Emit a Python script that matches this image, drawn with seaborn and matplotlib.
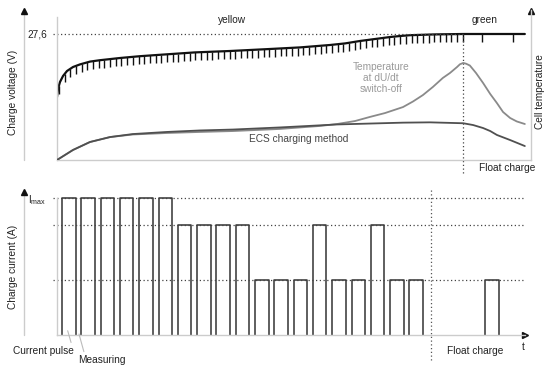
import numpy as np
import pandas as pd
import matplotlib.pyplot as plt
import seaborn as sns

# === DATA ===
# top panel: time in arbitrary units (0-100), voltage in V, cell temperature in relative units (0-100)
volt_t = [0.0, 0.21, 0.63, 1.27, 2.11, 3.38, 4.85, 6.96, 9.07, 13.3, 17.5, 21.7, 29.1,
          36.5, 44.9, 51.3, 57.6, 60.8, 63.9, 67.1, 70.3, 72.4, 74.5, 79.7, 85.7, 98.7]
volt_v = [24.45, 24.85, 25.2, 25.5, 25.75, 25.95, 26.08, 26.22, 26.29, 26.4, 26.49, 26.56, 26.68,
          26.75, 26.85, 26.93, 27.05, 27.13, 27.25, 27.35, 27.45, 27.5, 27.54, 27.58, 27.6, 27.6]

temp_t = [0, 3.38, 6.96, 11.2, 16.0, 23.2, 30.2, 37.1, 47.0, 55.5, 59.1, 62.9, 66.0, 69.2,
          73.0, 75.1, 77.2, 79.3, 81.4, 82.9, 84.4, 85.0, 85.7, 86.3, 87.1, 88.4, 89.9,
          91.4, 92.8, 94.1, 95.6, 97.0, 98.7]
temp_dudt = [0, 6.7, 12.0, 15.3, 17.0, 18.0, 18.7, 19.3, 20.7, 22.7, 24.0, 26.0, 28.7, 31.3,
             35.3, 39.0, 43.3, 48.7, 54.7, 58.0, 62.0, 63.8, 64.7, 64.2, 63.0, 58.0, 51.3,
             44.0, 38.0, 32.0, 28.0, 25.7, 24.0]

ecs_t = [0, 3.38, 6.96, 11.2, 16.0, 23.2, 30.2, 37.1, 47.0, 59.1, 73.0, 78.7, 85.7,
         87.8, 89.9, 91.4, 92.8, 95.6, 98.7]
ecs_temp = [0, 6.7, 12.0, 15.3, 17.3, 18.7, 19.7, 20.3, 21.7, 23.7, 24.9, 25.1, 24.5,
            23.3, 21.3, 19.3, 16.7, 13.3, 9.3]

V_END = 27.6          # end-of-charge voltage
SWITCH_T = 85.7       # dU/dt switch-off -> float charge
N_MEASURE = 71        # measuring pauses during main charge
MEASURE_START = 0.4
MEASURE_PERIOD = 1.2
float_tick_t = [85.7, 89.7, 96.2]
tick_drop = 0.4

# bottom panel: time in pulse periods, current relative to Imax
pulse_start = [0.26, 1.26, 2.26, 3.26, 4.26, 5.26, 6.26, 7.26, 8.26, 9.26,
               10.26, 11.26, 12.26, 13.26, 14.26, 15.26, 16.26, 17.26, 18.26, 22.18]
pulse_level = [1.0, 1.0, 1.0, 1.0, 1.0, 1.0, 0.8, 0.8, 0.8, 0.8,
               0.4, 0.4, 0.4, 0.8, 0.4, 0.4, 0.8, 0.4, 0.4, 0.4]
PULSE_WIDTH = 0.7
current_levels = [1.0, 0.8, 0.4]
FLOAT_T = 19.38

# === STYLE ===
sns.set_theme(style="white")
plt.rcParams['font.family'] = ['Liberation Sans', 'DejaVu Sans']
AXIS_GREY = "#cccccc"
DOT = (0, (1, 2))
FS = 7.3

fig = plt.figure(figsize=(5.56, 3.68), dpi=100)
ax = fig.add_axes([0.10252, 0.56522, 0.85252, 0.40761])
axt = ax.twinx()
ax2 = fig.add_axes([0.10252, 0.08967, 0.84173, 0.39402])

# --- Top panel: charge voltage + cell temperature ---
sns.lineplot(x=volt_t, y=volt_v, ax=ax, color="#111111", lw=1.6)
measure_t = MEASURE_START + MEASURE_PERIOD * np.arange(N_MEASURE)
tops = np.interp(measure_t, volt_t, volt_v)
ax.vlines(measure_t, tops - tick_drop, tops, color="#111111", lw=1.0)
ax.vlines(float_tick_t, V_END - tick_drop, V_END, color="#111111", lw=1.0)
ax.hlines(V_END, -0.8, SWITCH_T, color="#444444", lw=0.9, linestyles=DOT, clip_on=False)
ax.vlines(SWITCH_T, 20.65, V_END, color="#444444", lw=0.9, linestyles=DOT, clip_on=False)
ax.set_xlim(0, 100)
ax.set_ylim(21.3, 28.8)
ax.set_xticks([])
ax.set_yticks([V_END])
ax.set_yticklabels(["27,6"])
ax.tick_params(axis="y", length=0, pad=7, labelsize=FS, labelcolor="#222222")

sns.lineplot(x=temp_t, y=temp_dudt, ax=axt, color="#8a8a8a", lw=1.3)
sns.lineplot(x=ecs_t, y=ecs_temp, ax=axt, color="#505050", lw=1.3)
axt.set_ylim(0, 100)
axt.set_yticks([])

for s in ["top", "right"]:
    ax.spines[s].set_visible(False)
for s in ["top", "left", "bottom"]:
    axt.spines[s].set_visible(False)
ax.spines["left"].set_bounds(21.3, 28.45)
for s in [ax.spines["left"], ax.spines["bottom"], axt.spines["right"]]:
    s.set_color(AXIS_GREY)
    s.set_linewidth(1.0)

ax.text(36.9, 28.3, "yellow", ha="center", va="center", fontsize=FS, color="#222222")
ax.text(90.3, 28.3, "green", ha="center", va="center", fontsize=FS, color="#222222")
ax.text(94.9, 20.9, "Float charge", ha="center", va="center", fontsize=FS, color="#222222", clip_on=False)
axt.text(68.4, 54.7, "Temperature\nat dU/dt\nswitch-off", ha="center", va="center",
         fontsize=FS, color="#9a9a9a", linespacing=1.15)
axt.text(50.9, 14.0, "ECS charging method", ha="center", va="center", fontsize=FS, color="#444444")

ax.set_ylabel("Charge voltage (V)", fontsize=FS, color="#222222")
ax.yaxis.set_label_coords(-0.082, 0.453)
axt.set_ylabel("Cell temperature", fontsize=FS, color="#222222")
axt.yaxis.set_label_coords(1.008, 0.453)
ax.set_xlabel("")

# outer axis arrows (top)
ax.plot([-0.0696, -0.0696], [0, 0.97], transform=ax.transAxes, color=AXIS_GREY, lw=1.0, clip_on=False)
ax.plot([-0.0696], [0.99], transform=ax.transAxes, marker="^", ms=4, color="#111111", clip_on=False)
ax.plot([1.0], [0.99], transform=ax.transAxes, marker="^", ms=4, color="#111111", clip_on=False)

# --- Bottom panel: pulsed charge current ---
rows = []
for i, (s, h) in enumerate(zip(pulse_start, pulse_level)):
    for t, c in [(s, 0), (s, h), (s + PULSE_WIDTH, h), (s + PULSE_WIDTH, 0)]:
        rows.append({"pulse": i, "t": t, "I": c})
pulse_df = pd.DataFrame(rows)
sns.lineplot(data=pulse_df, x="t", y="I", units="pulse", estimator=None, sort=False,
             ax=ax2, color="#333333", lw=1.1)
ax2.hlines(current_levels, -0.2, 24.25, color="#444444", lw=0.9, linestyles=DOT, clip_on=False)
ax2.vlines(FLOAT_T, -0.18, 1.058, color="#555555", lw=0.9, linestyles=DOT, clip_on=False)
ax2.set_xlim(0, 24.25)
ax2.set_ylim(0, 1.058)
ax2.set_xticks([])
ax2.set_yticks([1.0])
ax2.set_yticklabels([r"I$_{\mathregular{max}}$"])
ax2.tick_params(axis="y", length=0, pad=8, labelsize=FS, labelcolor="#222222")
for s in ["top", "right"]:
    ax2.spines[s].set_visible(False)
ax2.spines["left"].set_bounds(0, 1.0)
for s in ["left", "bottom"]:
    ax2.spines[s].set_color(AXIS_GREY)
    ax2.spines[s].set_linewidth(1.0)
ax2.set_xlabel("")
ax2.set_ylabel("Charge current (A)", fontsize=FS, color="#222222")
ax2.yaxis.set_label_coords(-0.0833, 0.469)

ax2.plot([-0.0705, -0.0705], [0, 0.97], transform=ax2.transAxes, color=AXIS_GREY, lw=1.0, clip_on=False)
ax2.plot([-0.0705], [0.986], transform=ax2.transAxes, marker="^", ms=4, color="#111111", clip_on=False)
ax2.plot([1.0], [0.0], transform=ax2.transAxes, marker=">", ms=4, color="#111111", clip_on=False)

ax2.text(21.66, -0.12, "Float charge", ha="center", va="center", fontsize=FS, color="#222222")
ax2.text(24.15, -0.09, "t", ha="center", va="center", fontsize=FS, color="#222222")
ax2.annotate("Current pulse", xy=(0.554, 0.031), xytext=(-2.30, -0.115), ha="left", va="center",
             fontsize=FS, color="#222222", annotation_clip=False,
             arrowprops=dict(arrowstyle="-", color="#bbbbbb", lw=0.8, shrinkA=0, shrinkB=0,
                             relpos=(0.98, 0.9)))
ax2.annotate("Measuring", xy=(1.14, 0.007), xytext=(1.07, -0.182), ha="left", va="center",
             fontsize=FS, color="#222222", annotation_clip=False,
             arrowprops=dict(arrowstyle="-", color="#bbbbbb", lw=0.8, shrinkA=0, shrinkB=0,
                             relpos=(0.15, 1.0)))

fig.savefig("out.png", dpi=100, facecolor="white")
